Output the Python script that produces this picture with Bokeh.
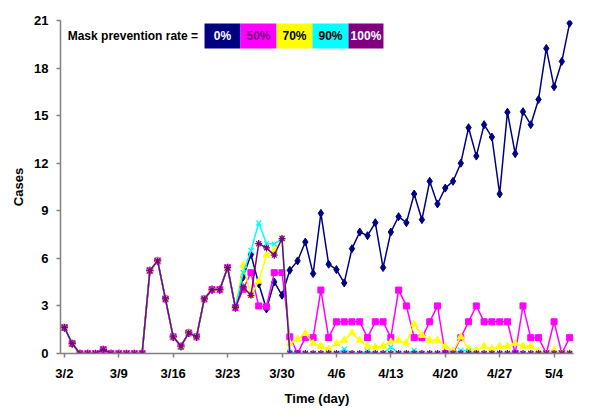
from bokeh.plotting import figure
from bokeh.models import Range1d, FixedTicker, BoxAnnotation, Label
from bokeh.embed import file_html
from bokeh.resources import INLINE

# ---- data ----
tick_days = [0, 7, 14, 21, 28, 35, 42, 49, 56, 63]
tick_labels = ["3/2", "3/9", "3/16", "3/23", "3/30", "4/6", "4/13", "4/20", "4/27", "5/4"]

early_cases = [1.64, 0.63, 0, 0, 0, 0.25, 0, 0, 0, 0, 0, 5.23, 5.84, 3.44, 1.05,
               0.46, 1.3, 1.05, 3.44, 4.03, 4.03, 5.42, 2.9]

rate_0 = early_cases + [4.83, 6.24, 4.4, 2.81, 4.51, 3.67, 5.25, 5.84, 7.03, 5.04,
                        8.84, 5.63, 5.29, 4.45, 6.61, 7.66, 7.43, 8.25, 5.42, 7.66,
                        8.63, 8.25, 10.06, 8.44, 10.86, 9.43, 10.43, 10.86, 12.0, 14.24,
                        12.45, 14.43, 13.65, 10.06, 15.22, 12.6, 15.25, 14.43, 16.02, 19.24,
                        16.82, 18.42, 20.83]
rate_50 = early_cases + [4.05, 5.1, 3.0, 2.95, 5.1, 5.1, 1.05, 0, 1, 1,
                         4, 1, 2, 2, 2, 2, 1, 2, 2, 1,
                         4, 3, 1, 1, 2, 3, 0, 0, 1, 2,
                         3, 2, 2, 2, 2, 0, 3, 1, 1, 0,
                         2, 0, 1]
rate_70 = early_cases + [5.56, 3.67, 4.56, 6.2, 6.5, 7.25, 0.63, 0.9, 1.26, 0.63,
                         0.46, 0.27, 0.63, 0.84, 1.3, 0.84, 0.46, 0.4, 0.46, 0.73,
                         0.84, 0.67, 1.85, 1.15, 0.84, 0.84, 0.46, 0.15, 1.05, 0.3,
                         0.2, 0.46, 0.3, 0.46, 0.46, 0.63, 0.46, 0.46, 0.15, 0,
                         0.2, 0, 0]
rate_90 = early_cases + [5.1, 6.5, 8.23, 6.93, 6.9, 7.25, 0.1, 0, 0, 0,
                         0, 0, 0, 0.27, 0, 0, 0.15, 0, 0, 0.4,
                         0, 0, 0.2, 0, 0, 0, 0, 0, 0.2, 0.15,
                         0, 0, 0, 0, 0, 0, 0, 0, 0, 0,
                         0, 0, 0]
rate_100 = early_cases + [4.2, 3.67, 6.93, 6.66, 6.2, 7.25, 0, 0, 0, 0,
                          0, 0, 0, 0, 0, 0, 0, 0, 0, 0,
                          0, 0, 0, 0, 0, 0, 0, 0, 0, 0,
                          0, 0, 0, 0, 0, 0, 0, 0, 0, 0,
                          0, 0, 0]
days = list(range(len(rate_0)))

legend_labels = ["0%", "50%", "70%", "90%", "100%"]

# ---- styles ----
colors = ["#000080", "#FF00FF", "#FFFF00", "#00FFFF", "#800080"]
label_colors = ["#FFFFFF", "#800080", "#000000", "#000000", "#FFFFFF"]
markers = ["diamond", "square", "triangle", "x", "asterisk"]
msizes = [8, 6, 7, 7, 7]
FONT = "Liberation Sans"

p = figure(width=592, height=410, output_backend="svg", toolbar_location=None,
           x_range=Range1d(-0.5, 65.5), y_range=Range1d(0, 21),
           min_border_left=60, min_border_right=19, min_border_top=20,
           min_border_bottom=57, background_fill_color="white",
           border_fill_color="white")
p.outline_line_color = None
p.grid.grid_line_color = None

for vals, c, m, s in zip([rate_0, rate_50, rate_70, rate_90, rate_100], colors, markers, msizes):
    p.line(days, vals, line_color=c, line_width=1.5)
    p.scatter(days, vals, marker=m, size=s, fill_color=c, line_color=c,
              line_width=1.3 if m in ("x", "asterisk") else 1)

# axes
p.xaxis.ticker = FixedTicker(ticks=tick_days)
p.xaxis.major_label_overrides = {d: t for d, t in zip(tick_days, tick_labels)}
p.yaxis.ticker = FixedTicker(ticks=[0, 3, 6, 9, 12, 15, 18, 21])
for ax in (p.xaxis[0], p.yaxis[0]):
    ax.axis_line_color = "#808080"
    ax.axis_line_width = 1.5
    ax.major_tick_line_color = "#808080"
    ax.major_tick_line_width = 1.5
    ax.major_tick_in = 0
    ax.major_tick_out = 4
    ax.minor_tick_line_color = None
    ax.major_label_text_font = FONT
    ax.major_label_text_font_size = "13px"
    ax.major_label_text_font_style = "bold"
    ax.major_label_text_color = "black"
    ax.axis_label_text_font = FONT
    ax.axis_label_text_font_size = "13px"
    ax.axis_label_text_font_style = "bold"
    ax.axis_label_text_color = "black"
p.xaxis.axis_label = "Time (day)"
p.yaxis.axis_label = "Cases"
p.xaxis.major_label_standoff = 8
p.yaxis.major_label_standoff = 8
p.xaxis.axis_label_standoff = 7
p.yaxis.axis_label_standoff = 5

# legend (colour boxes with labels), positioned in data units
box_edges = [18.03, 22.66, 27.29, 31.92, 36.55, 41.05]
box_bottom, box_top = 19.24, 20.81
p.add_layout(Label(x=17.2, y=(box_bottom + box_top) / 2, text="Mask prevention rate =",
                   text_font=FONT, text_font_size="12px", text_font_style="bold",
                   text_color="black", text_baseline="middle", text_align="right"))
for i, lab in enumerate(legend_labels):
    p.add_layout(BoxAnnotation(left=box_edges[i], right=box_edges[i + 1],
                               bottom=box_bottom, top=box_top,
                               fill_color=colors[i], fill_alpha=1.0, line_color=None))
    p.add_layout(Label(x=(box_edges[i] + box_edges[i + 1]) / 2, y=(box_bottom + box_top) / 2,
                       text=lab, text_font=FONT, text_font_size="12px",
                       text_font_style="bold", text_color=label_colors[i],
                       text_align="center", text_baseline="middle"))

open("out.html", "w").write(file_html(p, INLINE))
